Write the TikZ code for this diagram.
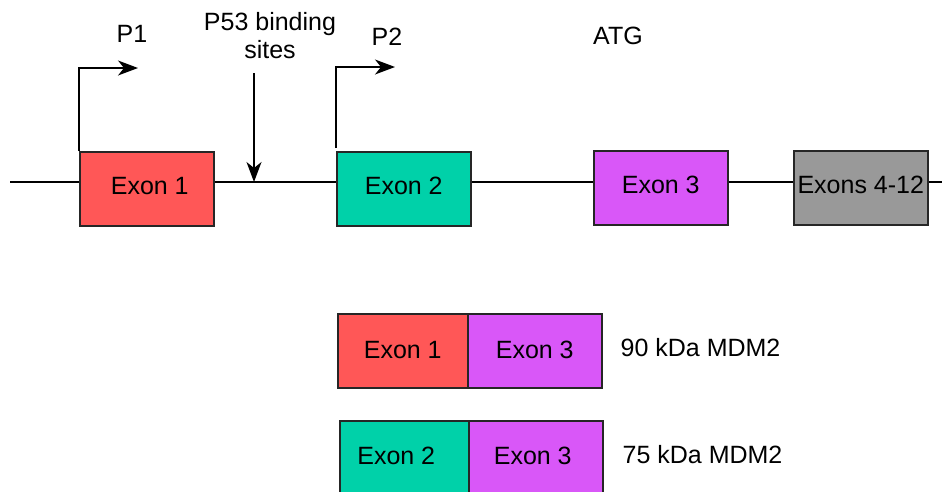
\documentclass[tikz,border=0pt]{standalone}
\usepackage{fontspec}
\setmainfont{Liberation Sans}
\usetikzlibrary{arrows.meta}
\definecolor{exred}{HTML}{FF5757}
\definecolor{exteal}{HTML}{00D1A9}
\definecolor{exmag}{HTML}{D957F8}
\definecolor{exgray}{HTML}{999999}
\newcommand\lblf{\fontsize{25}{28}\selectfont}
\begin{document}
\begin{tikzpicture}[x=1pt,y=-1pt,line width=1.3pt,
  exon/.style={draw=black!85,line width=1.5pt,minimum height=74pt,inner sep=0pt,font=\lblf,anchor=north west},
  lbl/.style={font=\lblf,inner sep=0pt},
  arr/.style={-{Stealth[length=20pt,width=15pt,inset=6pt]}}]
\useasboundingbox (0,0) rectangle (942,491);
\clip (0,0) rectangle (942,491);
% top gene
\coordinate (L) at (10,182);
\coordinate (R) at (945,182);
\node[exon,fill=exred,minimum width=134pt] (e1) at (79,151) {\raisebox{6pt}{\hspace*{6pt}Exon 1}};
\node[exon,fill=exteal,minimum width=134pt] (e2) at (336,151) {\raisebox{6pt}{Exon 2}};
\node[exon,fill=exmag,minimum width=134pt] (e3) at (593,150) {\raisebox{6pt}{Exon 3}};
\node[exon,fill=exgray,minimum width=134pt] (e4) at (793,150) {\raisebox{6pt}{Exons 4-12}};
\draw (L) -- (e1.west |- L);
\draw (e1.east |- L) -- (e2.west |- L);
\draw (e2.east |- L) -- (e3.west |- L);
\draw (e3.east |- L) -- (e4.west |- L);
\draw (e4.east |- L) -- (R);
% promoters
\draw[arr] (e1.north west) -- ++(0,-83) -- ++(59,0);
\coordinate (p2base) at (336,148);
\draw[arr] (p2base) -- ++(0,-81) -- ++(59,0);
\node[lbl] (p1) at (132,34) {P1};
\node[lbl] (p2) at (387,37) {P2};
\node[lbl] (atg) at (618,36) {ATG};
\node[lbl,align=center] (p53) at (270,36) {P53 binding\\sites};
\coordinate (p53top) at (254,73);
\coordinate (site) at (254,182);
\draw[arr] (p53top) -- (site);
% transcripts
\node[exon,fill=exred,minimum width=130pt] (a1) at (337,313) {\raisebox{2pt}{Exon 1}};
\node[exon,fill=exmag,minimum width=134pt] (a3) at (467,313) {\raisebox{2pt}{Exon 3}};
\node[lbl,anchor=west] (k90) at (620,348) {90 kDa MDM2};
\node[exon,fill=exteal,minimum width=129pt] (b2) at (339,420) {\raisebox{3pt}{\hspace*{-16pt}Exon 2}};
\node[exon,fill=exmag,minimum width=134pt] (b3) at (468,420) {\raisebox{3pt}{\hspace*{-6pt}Exon 3}};
\node[lbl,anchor=west] (k75) at (622,455) {75 kDa MDM2};
\end{tikzpicture}
\end{document}
